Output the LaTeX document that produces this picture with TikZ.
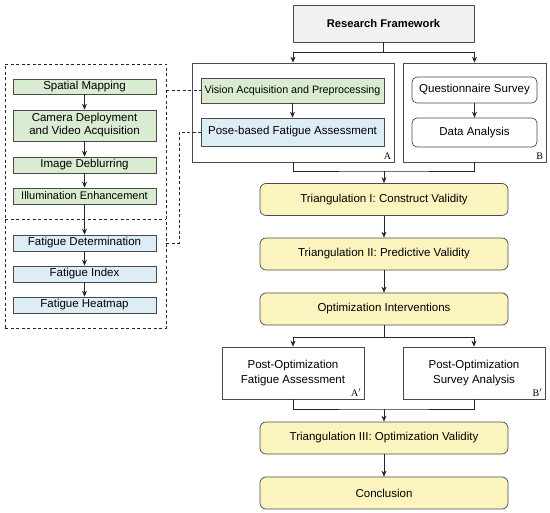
\documentclass[tikz,border=0pt]{standalone}
\usepackage{fontspec}
\setmainfont{Liberation Sans}
\newfontfamily\labfont{Liberation Serif}
\usetikzlibrary{arrows.meta}
\definecolor{gfill}{HTML}{D9EBD1}
\definecolor{bfill}{HTML}{DCEDF6}
\definecolor{yfill}{HTML}{FCF4BF}
\definecolor{rfill}{HTML}{F1F1F1}
\definecolor{edge}{HTML}{4A4A4A}
\tikzset{
  every node/.style={font=\fontsize{11.5}{13}\selectfont},
  base/.style={draw=edge, line width=0.7pt, inner sep=0pt, align=center},
  gbox/.style={base, fill=gfill, minimum width=143pt},
  bbox/.style={base, fill=bfill, minimum width=143pt},
  ybox/.style={base, fill=yfill, rounded corners=6pt, minimum width=248pt, minimum height=32pt},
  wbox/.style={base, fill=white},
  rbox/.style={base, fill=white, rounded corners=5pt, minimum width=125pt},
  frame/.style={base, fill=none},
  lab/.style={anchor=south east, inner sep=3pt, font=\labfont\fontsize{10}{10}\selectfont},
  arr/.style={draw=black!85, line width=0.7pt, -{Stealth[length=6pt,width=5pt]}},
  ln/.style={draw=black!85, line width=0.7pt},
  dsh/.style={draw=black!85, line width=0.7pt, dash pattern=on 3pt off 2.5pt},
}
\begin{document}
\begin{tikzpicture}[x=1pt,y=-1pt]
\useasboundingbox (0,0) rectangle (550,513);
% left group
\node[draw=black!85, line width=0.7pt, dash pattern=on 3pt off 2.5pt, minimum width=161pt, minimum height=264pt, inner sep=0pt] (grp) at (85.5,196) {};
\coordinate (sepL) at (5,219);
\coordinate (sepR) at (166,219);
\draw[dsh] (sepL) -- (sepR);
\node[gbox, minimum height=15pt] (sm) at (84.5,86.5) {Spatial Mapping};
\node[gbox, minimum height=31pt] (cd) at (84.5,125.5) {Camera Deployment\\and Video Acquisition};
\node[gbox, minimum height=16pt] (id) at (84.5,165) {Image Deblurring};
\node[gbox, minimum height=16pt, font=\fontsize{11}{13}\selectfont] (ie) at (84.5,196) {Illumination Enhancement};
\node[bbox, minimum height=16pt] (fd) at (84.5,243) {Fatigue Determination};
\node[bbox, minimum height=16pt] (fi) at (84.5,274) {Fatigue Index};
\node[bbox, minimum height=16pt] (fh) at (84.5,305) {Fatigue Heatmap};
\draw[arr] (sm) -- (cd);
\draw[arr] (cd) -- (id);
\draw[arr] (id) -- (ie);
\draw[arr] (ie) -- (fd);
\draw[arr] (fd) -- (fi);
\draw[arr] (fi) -- (fh);
% top
\node[base, fill=rfill, minimum width=181pt, minimum height=37pt, font=\bfseries\fontsize{11.2}{13}\selectfont] (rf) at (383.5,23.5) {Research Framework};
\node[frame, minimum width=202pt, minimum height=99pt] (A) at (293,112.5) {};
\node[frame, minimum width=143pt, minimum height=99pt] (B) at (474.5,112.5) {};
\node[lab] at (A.south east) {A};
\node[lab] at (B.south east) {B};
\node[base, fill=gfill, minimum width=183pt, minimum height=25pt, font=\fontsize{10.7}{13}\selectfont] (va) at (292.5,90.5) {Vision Acquisition and Preprocessing};
\node[base, fill=bfill, minimum width=183pt, minimum height=28pt] (pf) at (292.5,132) {Pose-based Fatigue Assessment};
\node[rbox, minimum height=26pt] (qs) at (474.5,90) {Questionnaire Survey};
\node[rbox, minimum height=29pt] (da) at (474.5,132.5) {Data Analysis};
\draw[arr] (va) -- (pf);
\draw[arr] (qs) -- (da);
\coordinate (j1) at (383.5,52);
\draw[ln] (rf) -- (j1);
\draw[arr] (j1) -| (A.north);
\draw[arr] (j1) -| (B.north);
% dashed links
\draw[dsh] (grp.east |- va.west) -- (va.west);
\coordinate (bend) at (179,243);
\draw[dsh] (fd.east -| grp.east) -- (bend) |- (pf.west);
% triangulation chain
\node[ybox] (t1) at (384,199.5) {Triangulation I: Construct Validity};
\node[ybox] (t2) at (384,254) {Triangulation II: Predictive Validity};
\node[ybox] (op) at (384,309) {Optimization Interventions};
\coordinate (j2) at (384,171);
\draw[ln] (A.south) |- (j2) -| (B.south);
\draw[arr] (j2) -- (t1);
\draw[arr] (t1) -- (t2);
\draw[arr] (t2) -- (op);
\node[wbox, minimum width=142pt, minimum height=52pt] (ap) at (293,373) {Post-Optimization\\[2pt]Fatigue Assessment};
\node[wbox, minimum width=142pt, minimum height=52pt] (bp) at (474,373) {Post-Optimization\\[2pt]Survey Analysis};
\node[lab] at (ap.south east) {A$'$};
\node[lab] at (bp.south east) {B$'$};
\coordinate (j3) at (384,337);
\draw[ln] (op) -- (j3);
\draw[arr] (j3) -| (ap.north);
\draw[arr] (j3) -| (bp.north);
\node[ybox] (t3) at (384,438) {Triangulation III: Optimization Validity};
\node[ybox] (cc) at (384,493) {Conclusion};
\coordinate (j4) at (384,409);
\draw[ln] (ap.south) |- (j4) -| (bp.south);
\draw[arr] (j4) -- (t3);
\draw[arr] (t3) -- (cc);
\end{tikzpicture}
\end{document}
